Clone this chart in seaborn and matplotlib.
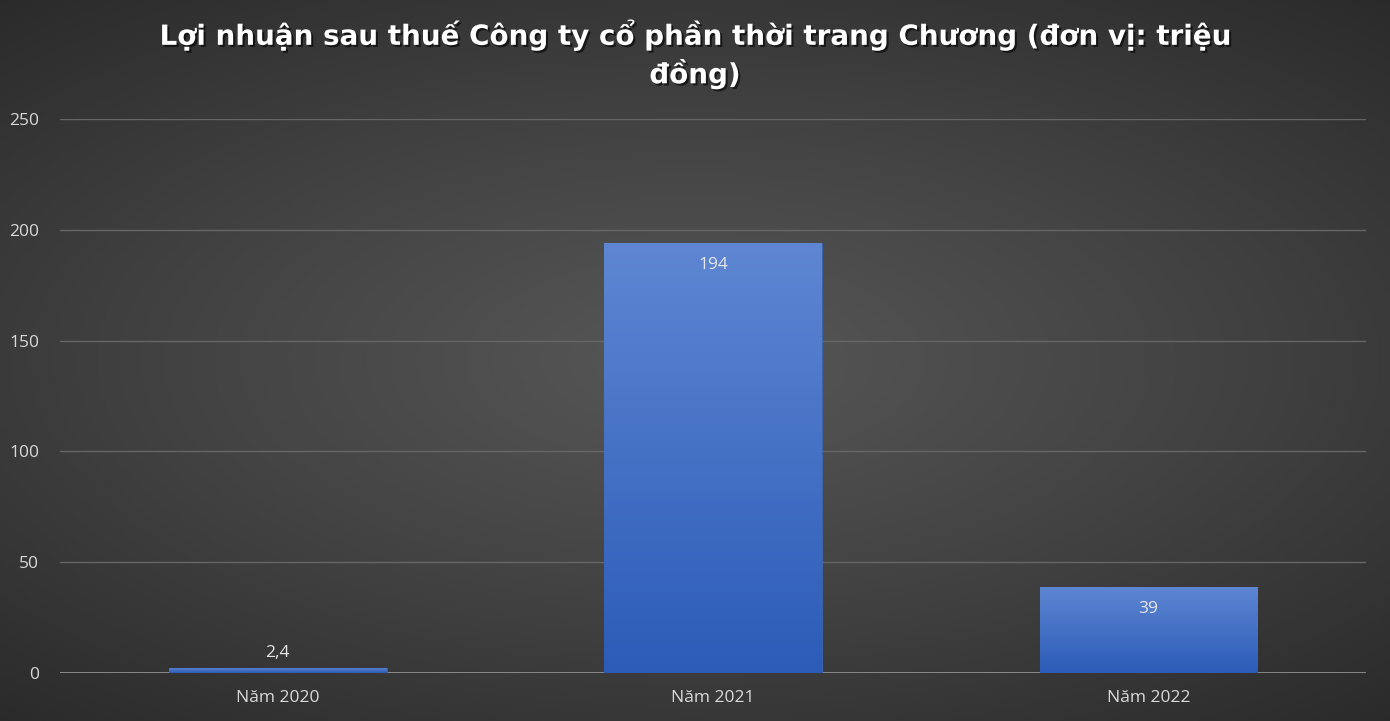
import numpy as np
import pandas as pd
import matplotlib
matplotlib.use("Agg")
import matplotlib.pyplot as plt
import matplotlib.patheffects as pe
from matplotlib.colors import LinearSegmentedColormap
import seaborn as sns

# data
years = ["Năm 2020", "Năm 2021", "Năm 2022"]
profit = [2.4, 194, 39]
value_labels = ["2,4", "194", "39"]
y_ticks = [0, 50, 100, 150, 200, 250]
title = "Lợi nhuận sau thuế Công ty cổ phần thời trang Chương (đơn vị: triệu\nđồng)"

sns.set_theme(style="dark")
plt.rcParams["font.family"] = ["Open Sans", "DejaVu Sans"]

df = pd.DataFrame({"year": years, "profit": profit})

fig = plt.figure(figsize=(13.9, 7.21), dpi=100)

# radial grey background
bg = fig.add_axes([0, 0, 1, 1], zorder=0)
yy, xx = np.mgrid[0:1:300j, 0:1:580j]
r = np.sqrt(((xx - 0.5) / 0.9) ** 2 + ((yy - 0.5) / 0.8) ** 2)
bg_cmap = LinearSegmentedColormap.from_list("bg", ["#575757", "#424242", "#2a2a2a"])
bg.imshow(r, cmap=bg_cmap, aspect="auto", extent=[0, 1, 0, 1], vmin=0, vmax=0.85)
bg.set_axis_off()

ax = fig.add_axes([0.0432, 0.0666, 0.9396, 0.7684], zorder=1)
ax.patch.set_alpha(0)
sns.barplot(data=df, x="year", y="profit", color="#4472c4", width=0.5, ax=ax, saturation=1)

ax.set_ylim(0, 250)
ax.set_xlim(-0.5, 2.5)
ax.set_yticks(y_ticks)
ax.set_xlabel("")
ax.set_ylabel("")
ax.grid(axis="y", color="#666666", linewidth=1)
ax.grid(axis="x", visible=False)
ax.set_axisbelow(True)
for s in ax.spines.values():
    s.set_visible(False)
ax.axhline(0, color="#a0a0a0", linewidth=1.2, zorder=0.5)
ax.tick_params(axis="y", length=0, labelsize=12.5, colors="#d9d9d9", pad=15)
ax.tick_params(axis="x", length=0, labelsize=12.5, colors="#d9d9d9", pad=12)

# blue vertical gradient on each bar
bar_cmap = LinearSegmentedColormap.from_list("bar", ["#2c5cb8", "#5e86d2"])
grad = np.linspace(0, 1, 256).reshape(-1, 1)
for patch in ax.patches:
    x0, y0 = patch.get_x(), patch.get_y()
    w, h = patch.get_width(), patch.get_height()
    im = ax.imshow(grad, cmap=bar_cmap, aspect="auto", origin="lower",
                   extent=[x0, x0 + w, y0, y0 + h], zorder=2)
    im.set_clip_path(patch)
    patch.set_edgecolor("#3b64b0")
    patch.set_linewidth(0.6)
ax.set_xlim(-0.5, 2.5)
ax.set_ylim(0, 250)

for i, (v, lab) in enumerate(zip(profit, value_labels)):
    if v > 20:
        ax.text(i, v - 6.5, lab, ha="center", va="top", fontsize=12.5, color="#e6e6e6", zorder=3)
    else:
        ax.text(i, v + 3, lab, ha="center", va="bottom", fontsize=12.5, color="#e6e6e6", zorder=3)

fig.text(0.5, 0.925, title, ha="center", va="center", fontsize=20, fontweight="bold",
         family=["DejaVu Sans"], color="white", linespacing=1.3,
         path_effects=[pe.withSimplePatchShadow(offset=(1.5, -1.5), shadow_rgbFace="black", alpha=0.6)])

fig.savefig("out.png", dpi=100)
